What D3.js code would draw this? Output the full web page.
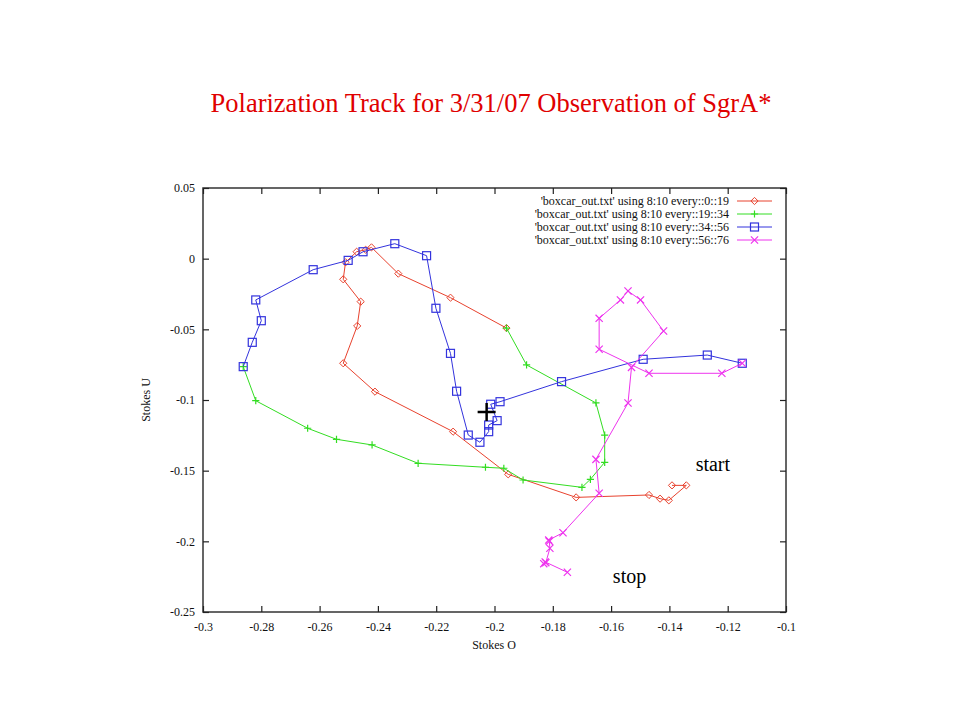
<!DOCTYPE html>
<html><head><meta charset="utf-8">
<script src="https://cdn.jsdelivr.net/npm/d3@7"></script>
</head><body style="margin:0">
<script>
const title = "Polarization Track for 3/31/07 Observation of SgrA*";
const xTicks = [-0.3,-0.28,-0.26,-0.24,-0.22,-0.2,-0.18,-0.16,-0.14,-0.12,-0.1];
const yTicks = [0.05,0,-0.05,-0.1,-0.15,-0.2,-0.25];
const seriesNames = ["'boxcar_out.txt' using 8:10 every::0::19","'boxcar_out.txt' using 8:10 every::19::34","'boxcar_out.txt' using 8:10 every::34::56","'boxcar_out.txt' using 8:10 every::56::76"];
const red = [[-0.1391,-0.1604],[-0.1342,-0.1604],[-0.1402,-0.1710],[-0.1432,-0.1698],[-0.1470,-0.1672],[-0.1720,-0.1689],[-0.1953,-0.1526],[-0.2142,-0.1224],[-0.2410,-0.0941],[-0.2519,-0.0740],[-0.2471,-0.0476],[-0.2459,-0.0304],[-0.2519,-0.0146],[-0.2511,-0.0026],[-0.2473,0.0049],[-0.2442,0.0063],[-0.2422,0.0080],[-0.2330,-0.0106],[-0.2151,-0.0276],[-0.1959,-0.0491]];
const green = [[-0.1959,-0.0491],[-0.1890,-0.0752],[-0.1652,-0.1021],[-0.1622,-0.1248],[-0.1622,-0.1441],[-0.1671,-0.1561],[-0.1700,-0.1618],[-0.1902,-0.1566],[-0.1968,-0.1483],[-0.2031,-0.1476],[-0.2262,-0.1448],[-0.2420,-0.1318],[-0.2542,-0.1278],[-0.2641,-0.1200],[-0.2819,-0.1005],[-0.2862,-0.0764]];
const blue = [[-0.2862,-0.0764],[-0.2831,-0.0592],[-0.2800,-0.0439],[-0.2819,-0.0292],[-0.2622,-0.0078],[-0.2502,-0.0012],[-0.2451,0.0049],[-0.2342,0.0106],[-0.2233,0.0021],[-0.2201,-0.0351],[-0.2151,-0.0670],[-0.2130,-0.0938],[-0.2090,-0.1248],[-0.2050,-0.1299],[-0.2020,-0.1224],[-0.2020,-0.1177],[-0.1991,-0.1146],[-0.2013,-0.1030],[-0.1981,-0.1012],[-0.1770,-0.0870],[-0.1490,-0.0712],[-0.1270,-0.0682],[-0.1150,-0.0740]];
const magenta = [[-0.1150,-0.0740],[-0.1220,-0.0811],[-0.1470,-0.0811],[-0.1641,-0.0641],[-0.1641,-0.0422],[-0.1568,-0.0292],[-0.1542,-0.0229],[-0.1499,-0.0292],[-0.1420,-0.0512],[-0.1530,-0.0769],[-0.1542,-0.1021],[-0.1652,-0.1420],[-0.1641,-0.1660],[-0.1765,-0.1939],[-0.1814,-0.1991],[-0.1812,-0.2000],[-0.1810,-0.2049],[-0.1824,-0.2151],[-0.1831,-0.2158],[-0.1826,-0.2146],[-0.1750,-0.2219]];
const crossPt = [-0.2027,-0.1085];
const annotations = [{text:"start", x:-0.1310, y:-0.1502},{text:"stop", x:-0.1594, y:-0.2295}];

const colors = ["#e8422e","#33dd22","#3333dd","#ee33ee"];
const shapes = ["diamond","plus","square","cross"];
const all = [red, green, blue, magenta];
const SERIF = "Liberation Serif";

const W=960,H=720;
const svg=d3.select("body").append("svg").attr("width",W).attr("height",H);
const x=d3.scaleLinear().domain([-0.3,-0.1]).range([203,786]);
const y=d3.scaleLinear().domain([-0.25,0.05]).range([612,188]);

function txt(parent){ return parent.append("text").attr("font-family",SERIF); }

txt(svg).attr("x",491).attr("y",112).attr("text-anchor","middle")
  .attr("fill","#e00000").attr("font-size",26.5).text(title);

svg.append("rect").attr("x",x(-0.3)).attr("y",y(0.05)).attr("width",x(-0.1)-x(-0.3)).attr("height",y(-0.25)-y(0.05))
  .attr("fill","none").attr("stroke","#333").attr("stroke-width",1.5);

const fmt = d => (Math.round(d*1000)/1000).toString();
const xb=svg.append("g").attr("transform",`translate(0,${y(-0.25)})`).call(d3.axisBottom(x).tickValues(xTicks).tickSize(-6).tickPadding(10).tickFormat(fmt));
const xt=svg.append("g").attr("transform",`translate(0,${y(0.05)})`).call(d3.axisTop(x).tickValues(xTicks).tickSize(-6).tickFormat(""));
const yl=svg.append("g").attr("transform",`translate(${x(-0.3)},0)`).call(d3.axisLeft(y).tickValues(yTicks).tickSize(-6).tickPadding(8).tickFormat(fmt));
const yr=svg.append("g").attr("transform",`translate(${x(-0.1)},0)`).call(d3.axisRight(y).tickValues(yTicks).tickSize(-6).tickFormat(""));
[xb,xt,yl,yr].forEach(g=>{g.attr("font-family",SERIF).attr("font-size",12);g.select(".domain").remove();g.selectAll("line").attr("stroke","#222").attr("stroke-width",1.2);
  g.selectAll("text").attr("fill","#111").attr("font-family",SERIF).attr("font-size",12);});

txt(svg).attr("x",494).attr("y",649).attr("text-anchor","middle").attr("font-size",12).attr("fill","#111").text("Stokes O");
txt(svg).attr("transform","translate(150,400) rotate(-90)").attr("text-anchor","middle").attr("font-size",12).attr("fill","#111").text("Stokes U");

function marker(g, shape, cx, cy, color){
  const s=3.6;
  if(shape==="diamond"){
    g.append("path").attr("d",`M${cx},${cy-s}L${cx+s},${cy}L${cx},${cy+s}L${cx-s},${cy}Z`).attr("fill","none").attr("stroke",color).attr("stroke-width",1);
  } else if(shape==="plus"){
    g.append("path").attr("d",`M${cx-s},${cy}H${cx+s}M${cx},${cy-s}V${cy+s}`).attr("stroke",color).attr("stroke-width",1.2);
  } else if(shape==="square"){
    g.append("rect").attr("x",cx-4).attr("y",cy-4).attr("width",8).attr("height",8).attr("fill","none").attr("stroke",color).attr("stroke-width",1.2);
  } else {
    g.append("path").attr("d",`M${cx-s},${cy-s}L${cx+s},${cy+s}M${cx-s},${cy+s}L${cx+s},${cy-s}`).attr("stroke",color).attr("stroke-width",1.2);
  }
}

const line=d3.line().x(d=>x(d[0])).y(d=>y(d[1]));
all.forEach((data,i)=>{
  const g=svg.append("g");
  g.append("path").attr("d",line(data)).attr("fill","none").attr("stroke",colors[i]).attr("stroke-width",1);
  data.forEach(d=>marker(g,shapes[i],x(d[0]),y(d[1]),colors[i]));
});

seriesNames.forEach((name,i)=>{
  const ly=201+i*13;
  txt(svg).attr("x",729).attr("y",ly+4).attr("text-anchor","end").attr("font-size",12).attr("fill","#111").text(name);
  svg.append("line").attr("x1",737).attr("x2",772).attr("y1",ly).attr("y2",ly).attr("stroke",colors[i]).attr("stroke-width",1);
  marker(svg,shapes[i],754.5,ly,colors[i]);
});

const cx=x(crossPt[0]), cy=y(crossPt[1]);
svg.append("path").attr("d",`M${cx-9},${cy}H${cx+9}M${cx},${cy-9}V${cy+9}`).attr("stroke","#000").attr("stroke-width",2.5);

annotations.forEach(a=>{
  txt(svg).attr("x",x(a.x)).attr("y",y(a.y)).attr("font-size",20).attr("fill","#000").text(a.text);
});
</script>
</body></html>
